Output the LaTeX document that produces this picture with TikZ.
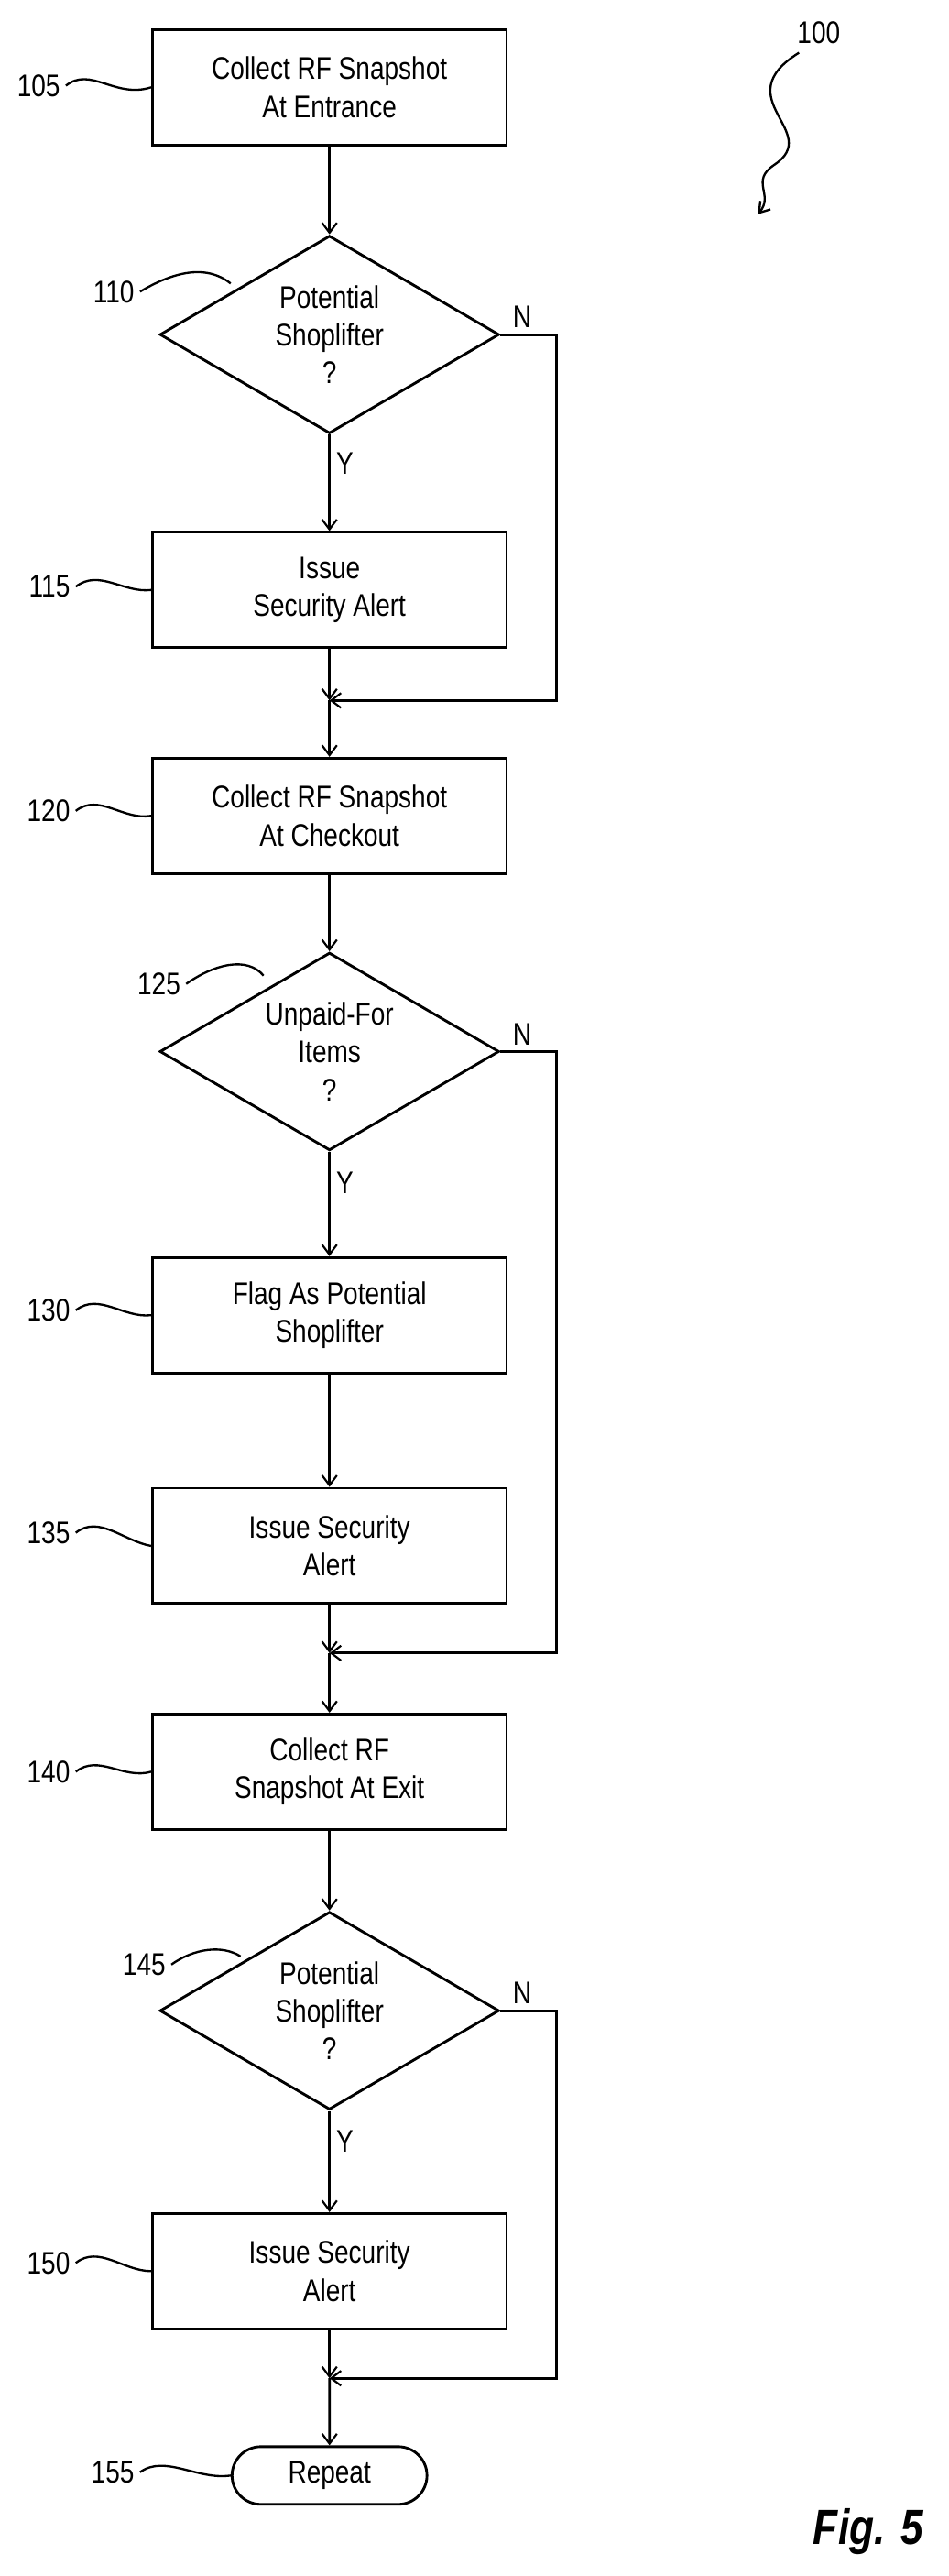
\documentclass[tikz,border=0pt]{standalone}
\usepackage{fontspec}
\setmainfont{Liberation Sans}[FakeStretch=0.82]
\usetikzlibrary{shapes.geometric,shapes.misc,arrows.meta}
\begin{document}
\begin{tikzpicture}[x=1pt,y=-1pt,
 box/.style={draw,line width=1.6pt,minimum width=215pt,minimum height=70pt,align=center,font=\fontsize{19}{23}\selectfont},
 dia/.style={draw,line width=1.6pt,diamond,minimum width=206pt,minimum height=120pt,aspect=1.72,inner sep=0pt,align=center,font=\fontsize{19}{23}\selectfont},
 term/.style={draw,line width=1.6pt,rounded rectangle,minimum width=125pt,minimum height=35pt,font=\fontsize{19}{23}\selectfont},
 ar/.style={line width=1.6pt,-{Straight Barb[length=6pt,width=9pt,line width=1.2pt]}},
 ln/.style={line width=1.6pt},
 lead/.style={line width=1.3pt},
 lab/.style={font=\fontsize{19}{23}\selectfont}]
\useasboundingbox (0,0) rectangle (576,1563);
\node[box] (b105) at (200,53) {Collect RF Snapshot\\At Entrance};
\node[dia] (d110) at (200,203) {Potential\\Shoplifter\\?};
\node[box] (b115) at (200,358) {Issue\\Security Alert};
\coordinate (m1) at (200,425);
\node[box] (b120) at (200,495) {Collect RF Snapshot\\At Checkout};
\node[dia] (d125) at (200,638) {Unpaid-For\\Items\\?};
\node[box] (b130) at (200,798) {Flag As Potential\\Shoplifter};
\node[box] (b135) at (200,938) {Issue Security\\Alert};
\coordinate (m2) at (200,1003);
\node[box] (b140) at (200,1075) {Collect RF\\Snapshot At Exit};
\node[dia] (d145) at (200,1220) {Potential\\Shoplifter\\?};
\node[box] (b150) at (200,1378) {Issue Security\\Alert};
\coordinate (m3) at (200,1443);
\node[term] (t155) at (200,1502) {Repeat};
\draw[ar] (b105) -- (d110);
\draw[ar] (d110) -- node[right,lab,pos=0.3]{Y} (b115);
\draw[ar] (b115) -- (m1);
\draw[ar] (d110.east) -- node[above right,lab,pos=0.1]{N} ++(34,0) |- (m1);
\draw[ar] (m1) -- (b120);
\draw[ar] (b120) -- (d125);
\draw[ar] (d125) -- node[right,lab,pos=0.3]{Y} (b130);
\draw[ar] (b130) -- (b135);
\draw[ar] (b135) -- (m2);
\draw[ar] (d125.east) -- node[above right,lab,pos=0.1]{N} ++(34,0) |- (m2);
\draw[ar] (m2) -- (b140);
\draw[ar] (b140) -- (d145);
\draw[ar] (d145) -- node[right,lab,pos=0.3]{Y} (b150);
\draw[ar] (b150) -- (m3);
\draw[ar] (d145.east) -- node[above right,lab,pos=0.1]{N} ++(34,0) |- (m3);
\draw[ar] (m3) -- (t155);
% reference labels
\node[lab,anchor=east] (l105) at (40,52) {105};
\draw[lead] (l105.east) .. controls (55,40) and (70,60) .. (b105.west);
\node[lab,anchor=east] (l110) at (85,177) {110};
\draw[lead] (l110.east) .. controls (105,165) and (125,160) .. (140,172);
\node[lab,anchor=east] (l115) at (46,356) {115};
\draw[lead] (l115.east) .. controls (60,345) and (75,360) .. (b115.west);
\node[lab,anchor=east] (l120) at (46,492) {120};
\draw[lead] (l120.east) .. controls (60,481) and (75,498) .. (b120.west);
\node[lab,anchor=east] (l125) at (113,597) {125};
\draw[lead] (l125.east) .. controls (130,585) and (150,580) .. (160,592);
\node[lab,anchor=east] (l130) at (46,795) {130};
\draw[lead] (l130.east) .. controls (60,784) and (75,800) .. (b130.west);
\node[lab,anchor=east] (l135) at (46,930) {135};
\draw[lead] (l135.east) .. controls (60,919) and (75,935) .. (b135.west);
\node[lab,anchor=east] (l140) at (46,1075) {140};
\draw[lead] (l140.east) .. controls (60,1064) and (75,1080) .. (b140.west);
\node[lab,anchor=east] (l145) at (104,1192) {145};
\draw[lead] (l145.east) .. controls (118,1182) and (135,1180) .. (146,1187);
\node[lab,anchor=east] (l150) at (46,1373) {150};
\draw[lead] (l150.east) .. controls (60,1362) and (75,1378) .. (b150.west);
\node[lab,anchor=east] (l155) at (85,1500) {155};
\draw[lead] (l155.east) .. controls (100,1489) and (120,1505) .. (t155.west);
\node[lab] (l100) at (497,20) {100};
\coordinate (a100) at (460,130);
\draw[lead,-{Straight Barb[length=6pt,width=8pt]}] (485,32) .. controls (440,60) and (500,80) .. (470,100) .. controls (455,110) and (470,118) .. (a100);
\node[font=\fontsize{30}{34}\bfseries\itshape\selectfont] (fig) at (527,1536) {Fig. 5};
\end{tikzpicture}
\end{document}
